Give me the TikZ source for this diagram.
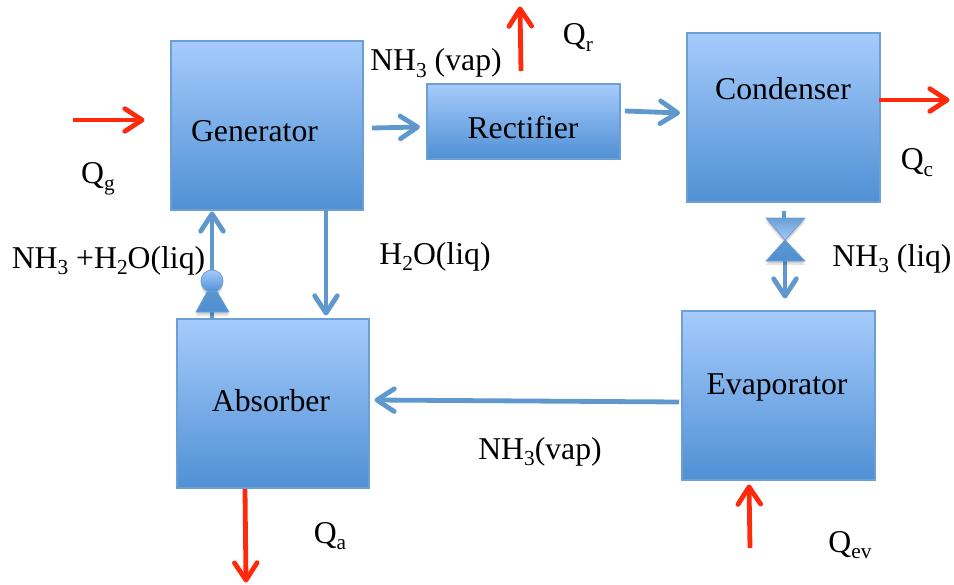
\documentclass[tikz,border=0pt]{standalone}
\usepackage{fontspec}
\setmainfont{Liberation Serif}
\usetikzlibrary{arrows.meta}
\newcommand{\lowtxt}[1]{\raisebox{-0.2em}{\fontsize{16}{17}\selectfont #1}}
\definecolor{flowblue}{HTML}{5E98CD}
\definecolor{heatred}{HTML}{FF2A0C}
\definecolor{boxtop}{HTML}{A6CBFC}
\definecolor{boxbot}{HTML}{4F90D4}
\definecolor{boxedge}{HTML}{6C9FD3}
\tikzset{
  unit/.style={draw=boxedge,line width=1.4pt,top color=boxtop,bottom color=boxbot,shading angle=0,inner sep=0pt,outer sep=0pt},
  lbl/.style={inner sep=0pt,outer sep=0pt,anchor=base,font=\fontsize{23.8}{26}\selectfont,text=black},
  flow/.style={draw=flowblue,line width=3.6pt,-{Straight Barb[round,length=13pt,width=17pt,line width=3.6pt]}},
  heat/.style={draw=heatred,line width=3.6pt,-{Straight Barb[round,length=13pt,width=17pt,line width=3.6pt]}},
  stub/.style={draw=flowblue,line width=3.6pt},
  vshade/.style={fill=black,opacity=.10},
}
\begin{document}
\begin{tikzpicture}[x=0.75pt,y=-0.75pt]
\useasboundingbox (0,0) rectangle (954,585);
% units
\node[unit,minimum width=144pt,minimum height=126.75pt] (gen) at (267,125.5) {};
\node[unit,minimum width=144.75pt,minimum height=56.25pt] (rect) at (523.5,121.5) {};
\node[unit,minimum width=144.75pt,minimum height=126.75pt] (cond) at (783.5,117.5) {};
\node[unit,minimum width=144.75pt,minimum height=126.75pt] (evap) at (778.5,395.5) {};
\node[unit,minimum width=144pt,minimum height=126.75pt] (abs) at (273,403.5) {};
% labels in units
\node[lbl] (tgen) at (254.5,142) {Generator};
\node[lbl] (trect) at (523,138) {Rectifier};
\node[lbl] (tcond) at (783,99) {Condenser};
\node[lbl] (tevap) at (777,394) {Evaporator};
\node[lbl] (tabs) at (271,411) {Absorber};
% free ends
\coordinate (qgs) at (73,120); \coordinate (qge) at (144.5,120);
\coordinate (qrs) at (521,71); \coordinate (qre) at (520,6.5);
\coordinate (qcs) at (879,100); \coordinate (qce) at (949.5,100);
\coordinate (qevs) at (750,548); \coordinate (qeve) at (749,484.5);
\coordinate (qas) at (245,489); \coordinate (qae) at (246,582.5);
\coordinate (gr1) at (372,128); \coordinate (gr2) at (420,127);
\coordinate (rc1) at (625,111); \coordinate (rc2) at (680,113);
\coordinate (ga1) at (326,210); \coordinate (ga2) at (326,315.5);
\coordinate (ea1) at (679,402); \coordinate (ea2) at (374.5,400);
\coordinate (ab1) at (212,319); \coordinate (ge2) at (212,211.5);
\coordinate (cv1) at (784,211); \coordinate (cv2) at (784,218);
\coordinate (ve1) at (785,261); \coordinate (ve2) at (785,298.5);
% blue flows
\draw[flow] (gr1) -- (gr2);
\draw[flow] (rc1) -- (rc2);
\draw[flow] (ga1) -- (ga2);
\draw[flow] (ea1) -- (ea2);
\draw[flow] (ab1) -- (ge2);
\draw[stub] (cv1) -- (cv2);
\draw[flow] (ve1) -- (ve2);
% heat
\draw[heat] (qgs) -- (qge);
\draw[heat] (qrs) -- (qre);
\draw[heat] (qcs) -- (qce);
\draw[heat] (qevs) -- (qeve);
\draw[heat] (qas) -- (qae);
% expansion valve
\foreach \d in {2,4}{
  \fill[vshade] (766,218+\d) -- (805,218+\d) -- (785,240+\d) -- (805,261+\d) -- (766,261+\d) -- (785,240+\d) -- cycle;
}
\path[top color=boxedge,bottom color=boxtop,draw=boxedge,line width=.6pt] (766,218) -- (805,218) -- (785,240) -- cycle;
\path[top color=flowblue,bottom color=boxbot,draw=boxedge,line width=.6pt] (785,240) -- (805,261) -- (766,261) -- cycle;
% pump
\foreach \d in {2,4}{
  \fill[vshade] (196,312+\d) -- (229,312+\d) -- (212,283+\d) -- cycle;
  \fill[vshade] (212,281+\d) circle[radius=11];
}
\path[top color=flowblue,bottom color=boxbot,draw=boxedge,line width=.6pt] (196,312) -- (229,312) -- (212,283) -- cycle;
\path[top color=boxtop,bottom color=boxbot,draw=boxedge,line width=.6pt] (212,281) circle[radius=11];
% texts
\node[lbl] (lqg) at (98,184) {Q\lowtxt{g}};
\node[lbl] (lqr) at (578,45) {Q\lowtxt{r}};
\node[lbl] (lqc) at (917,170) {Q\lowtxt{c}};
\node[lbl] (lqa) at (330,543) {Q\lowtxt{a}};
\node[lbl] (lqev) at (850,552) {Q\lowtxt{ev}};
\node[lbl] (lrv) at (436,71) {NH\lowtxt{3} (vap)};
\node[lbl] (lmix) at (108.5,268) {NH\lowtxt{3} +H\lowtxt{2}O(liq)};
\node[lbl] (lw) at (435,264) {H\lowtxt{2}O(liq)};
\node[lbl] (lnl) at (892,266) {NH\lowtxt{3} (liq)};
\node[lbl] (lnv) at (540,459) {NH\lowtxt{3}(vap)};
\end{tikzpicture}
\end{document}
